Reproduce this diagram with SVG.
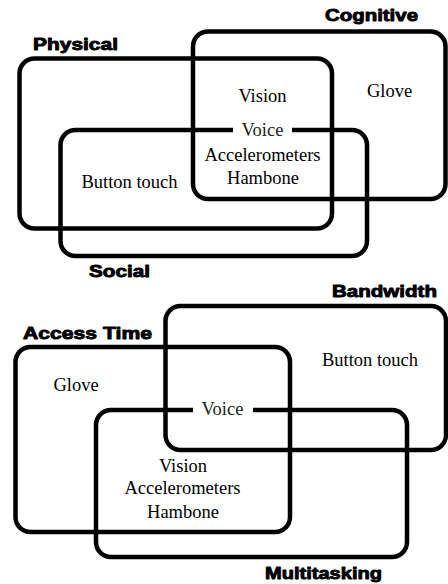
<svg xmlns="http://www.w3.org/2000/svg" width="448" height="584" viewBox="0 0 448 584">
<style>
.box{fill:none;stroke:#000;stroke-width:4.5;stroke-linecap:butt}
.t{font-family:"Liberation Serif","Times New Roman",serif;font-size:18.5px;fill:#000;text-anchor:middle}
.v{fill:#222}
.lbl{font-family:"Liberation Sans",Arial,sans-serif;font-weight:bold;font-size:17px;fill:#000;stroke:#000;stroke-width:0.9;stroke-linejoin:round}
</style>
<rect width="448" height="584" fill="#fff"/>
<g id="connectors"></g>
<g id="top-sets">
<g id="physical"><rect class="box" x="19.5" y="58.5" width="312.5" height="170" rx="15"/><text class="lbl" x="33" y="50" textLength="85" lengthAdjust="spacingAndGlyphs">Physical</text></g>
<g id="cognitive"><rect class="box" x="193" y="31.5" width="252.5" height="167.5" rx="15"/><text class="lbl" x="325" y="21" textLength="93" lengthAdjust="spacingAndGlyphs">Cognitive</text></g>
<g id="social"><path class="box" d="M292,130 H352 A15,15 0 0 1 367,145 V241 A15,15 0 0 1 352,256 H75.5 A15,15 0 0 1 60.5,241 V145 A15,15 0 0 1 75.5,130 H233"/><text class="lbl" x="89" y="277" textLength="61" lengthAdjust="spacingAndGlyphs">Social</text></g>
<g id="top-items">
<text class="t" x="262.5" y="102">Vision</text>
<text class="t" x="389.5" y="96.5">Glove</text>
<text class="t v" x="262.5" y="136">Voice</text>
<text class="t" x="262.5" y="161">Accelerometers</text>
<text class="t" x="263" y="183.5">Hambone</text>
<text class="t" x="129.5" y="187.5">Button touch</text>
</g>
</g>
<g id="bottom-sets">
<g id="access-time"><rect class="box" x="15.5" y="347" width="274.5" height="185" rx="15"/><text class="lbl" x="23" y="339" textLength="129" lengthAdjust="spacingAndGlyphs">Access Time</text></g>
<g id="bandwidth"><rect class="box" x="165.5" y="306" width="280.5" height="144" rx="15"/><text class="lbl" x="332" y="297" textLength="105" lengthAdjust="spacingAndGlyphs">Bandwidth</text></g>
<g id="multitasking"><path class="box" d="M253,410 H392 A15,15 0 0 1 407,425 V542 A15,15 0 0 1 392,557 H111 A15,15 0 0 1 96,542 V425 A15,15 0 0 1 111,410 H193"/><text class="lbl" x="265" y="579" textLength="117" lengthAdjust="spacingAndGlyphs">Multitasking</text></g>
<g id="bottom-items">
<text class="t" x="76" y="390.5">Glove</text>
<text class="t" x="370" y="365.5">Button touch</text>
<text class="t v" x="222.5" y="415">Voice</text>
<text class="t" x="183" y="472">Vision</text>
<text class="t" x="182.5" y="494">Accelerometers</text>
<text class="t" x="183" y="517.5">Hambone</text>
</g>
</g>
</svg>
